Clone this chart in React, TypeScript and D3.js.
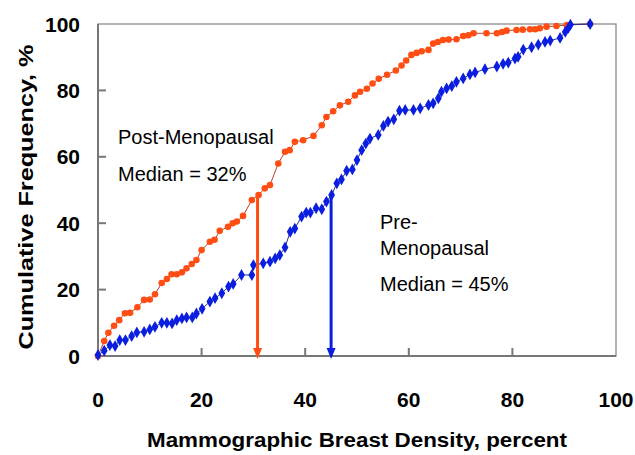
import React from 'react';
import * as d3 from 'd3';

// cumulative frequency curves, [density %, cumulative %]
const postMenopausal: [number, number][] = [
  [0, 0], [1.2, 4.5], [2, 7], [3.1, 9.1], [4.1, 10.8], [5.2, 12.9], [6.2, 13], [7.6, 14.7],
  [8.9, 16.9], [10, 17], [11, 18.6], [12.3, 22], [13.3, 23.2], [14.2, 24.6], [15.2, 24.6],
  [16.2, 25.2], [17.1, 26.4], [18.1, 27.7], [19, 28.9], [20, 31.9], [21.6, 34.4], [22.5, 35],
  [23.5, 37.7], [25.1, 38.9], [26, 40], [26.8, 40.5], [28, 42.2], [29.7, 47], [31, 48.5],
  [32.2, 50.5], [33.2, 51.5], [34.8, 58], [36.1, 61.5], [37, 62], [38, 64.5], [39.6, 65],
  [41.6, 66.3], [43.2, 69.5], [44.1, 72], [45.4, 73.7], [46.7, 75.5], [48.3, 76.6], [49.6, 78.5],
  [50.6, 79.6], [51.9, 80.5], [53, 82.1], [54.2, 83.5], [55.8, 84.7], [57.5, 86], [58.6, 87.5],
  [59.5, 89], [60.5, 90.7], [61.5, 91.3], [62.5, 91.8], [63.8, 92.2], [64.7, 94.1], [65.6, 94.6],
  [66.6, 95.2], [67.7, 95.3], [69.2, 95.4], [70.5, 96.4], [71.5, 96.6], [72.5, 97.2], [75, 97.2],
  [77, 97.2], [78, 97.6], [78.9, 98], [80.8, 98.2], [82, 98.3], [83.4, 98.4], [84.4, 98.4],
  [85.3, 98.7], [86.6, 99.2], [88.5, 99.4], [90.5, 99.7], [95, 100],
];

const preMenopausal: [number, number][] = [
  [0, 0.3], [1.2, 1.6], [2.3, 3.3], [3.3, 3], [4.2, 4.8], [5.3, 4.8], [6.5, 6], [7.5, 7.1],
  [8.9, 7.3], [10, 8], [11, 8.8], [12.3, 10], [13.3, 10], [14.3, 9.8], [15.2, 10.8], [16.2, 11.3],
  [17.1, 11.6], [18.2, 11.6], [19, 12.8], [20.1, 14.2], [21.6, 16.4], [22.6, 17.4], [23.9, 18.9],
  [25.2, 20.9], [26.1, 21.7], [27.7, 24.4], [29.7, 24.4], [30, 27.4], [31.9, 27.9], [33.2, 28.4],
  [34.2, 29.4], [35.1, 30.4], [36.1, 32.7], [37.1, 37.4], [38, 38.4], [39.3, 42], [40.2, 43.2],
  [41, 43.2], [42.1, 44.5], [43.2, 44.2], [44.1, 46.5], [45.1, 48.5], [46.1, 52], [47, 53.2],
  [48, 55.8], [49.1, 56.2], [50, 59], [50.9, 62], [51.7, 64], [52.5, 65.5], [54.1, 66.6],
  [55.1, 69.3], [56, 70.6], [57.1, 71.3], [58.2, 73.9], [59.3, 74.1], [60.9, 74.1], [62.2, 74.6],
  [63.8, 75.6], [64.7, 76.1], [65.7, 77.6], [66.3, 79.6], [67.3, 80.6], [68.3, 81.3], [69.2, 82.6],
  [70.5, 83.6], [71.8, 84.8], [72.8, 85.4], [74.7, 86.4], [77, 87.2], [78.2, 88], [79.2, 88.4],
  [80.5, 89.6], [81.1, 90.1], [82.1, 92.3], [83.7, 93], [85, 93.8], [86.3, 94.6], [87.3, 95],
  [89.2, 95.8], [90.2, 97.6], [90.8, 98.8], [91.2, 99.8], [95, 100],
];

const xTicks = [0, 20, 40, 60, 80, 100];
const yTicks = [0, 20, 40, 60, 80, 100];

// medians marked with arrows: [x, top of arrow]
const postMedian: [number, number] = [30.8, 49];
const preMedian: [number, number] = [45, 48.5];

const POST = '#ff4d14';
const PRE = '#0a1ee0';
const FONT = '"Liberation Sans", Arial, sans-serif';

export default function App() {
  const width = 635;
  const height = 455;
  const left = 98, right = 616, top = 24, bottom = 356;

  const x = d3.scaleLinear().domain([0, 100]).range([left, right]);
  const y = d3.scaleLinear().domain([0, 100]).range([bottom, top]);

  const line = d3.line<[number, number]>().x(d => x(d[0])).y(d => y(d[1]));
  const circle = d3.symbol().type(d3.symbolCircle).size(34)();
  const diamond = d3.symbol().type(d3.symbolDiamond).size(40)();

  const arrow = (m: [number, number], color: string) => {
    const ax = x(m[0]);
    const y0 = y(0);
    return (
      <g>
        <line x1={ax} x2={ax} y1={y(m[1])} y2={y0 - 6} stroke={color} strokeWidth={3} />
        <path d={`M${ax - 4.5},${y0 - 8}L${ax + 4.5},${y0 - 8}L${ax},${y0 + 3}Z`} fill={color} />
      </g>
    );
  };

  return (
    <svg width={width} height={height} style={{ position: 'absolute', left: 0, top: 0, background: '#fff' }}
      fontFamily={FONT}>
      <rect x={0} y={0} width={width} height={height} fill="#fff" />

      {/* plot frame */}
      <rect x={left} y={top} width={right - left} height={bottom - top} fill="none" stroke="#8a8a8a" strokeWidth={1.3} />
      <line x1={left} x2={left} y1={top} y2={bottom} stroke="#777" strokeWidth={2} />
      <line x1={left} x2={right} y1={bottom} y2={bottom} stroke="#777" strokeWidth={2} />

      {yTicks.slice(1, -1).map(t => (
        <line key={'yt' + t} x1={left} x2={left + 8} y1={y(t)} y2={y(t)} stroke="#777" strokeWidth={2} />
      ))}
      {xTicks.slice(1, -1).map(t => (
        <line key={'xt' + t} x1={x(t)} x2={x(t)} y1={bottom} y2={bottom - 8} stroke="#777" strokeWidth={2} />
      ))}

      {yTicks.map(t => (
        <text key={'yl' + t} x={80} y={y(t)} dy="0.36em" textAnchor="end" fontSize={21} fontWeight="bold">{t}</text>
      ))}
      {xTicks.map(t => (
        <text key={'xl' + t} x={x(t)} y={407} textAnchor="middle" fontSize={21} fontWeight="bold">{t}</text>
      ))}

      <text x={357} y={447} textAnchor="middle" fontSize={20} fontWeight="bold"
        textLength={420} lengthAdjust="spacingAndGlyphs">Mammographic Breast Density, percent</text>
      <text transform="translate(33,197) rotate(-90)" textAnchor="middle" fontSize={21} fontWeight="bold"
        textLength={305} lengthAdjust="spacingAndGlyphs">Cumulative Frequency, %</text>

      {/* curves */}
      <path d={line(postMenopausal) || ''} fill="none" stroke="#b8402a" strokeWidth={1} />
      {postMenopausal.map((d, i) => (
        <path key={'po' + i} d={circle || ''} transform={`translate(${x(d[0])},${y(d[1])})`} fill={POST} />
      ))}
      <path d={line(preMenopausal) || ''} fill="none" stroke="#2a2a90" strokeWidth={1} />
      {preMenopausal.map((d, i) => (
        <path key={'pr' + i} d={diamond || ''} transform={`translate(${x(d[0])},${y(d[1])})`} fill={PRE} />
      ))}

      {arrow(postMedian, POST)}
      {arrow(preMedian, PRE)}

      <g fontSize={20} fill="#000">
        <text x={118} y={144}>Post-Menopausal</text>
        <text x={118} y={181}>Median = 32%</text>
        <text x={380} y={229}>Pre-</text>
        <text x={380} y={255}>Menopausal</text>
        <text x={380} y={291}>Median = 45%</text>
      </g>
    </svg>
  );
}
